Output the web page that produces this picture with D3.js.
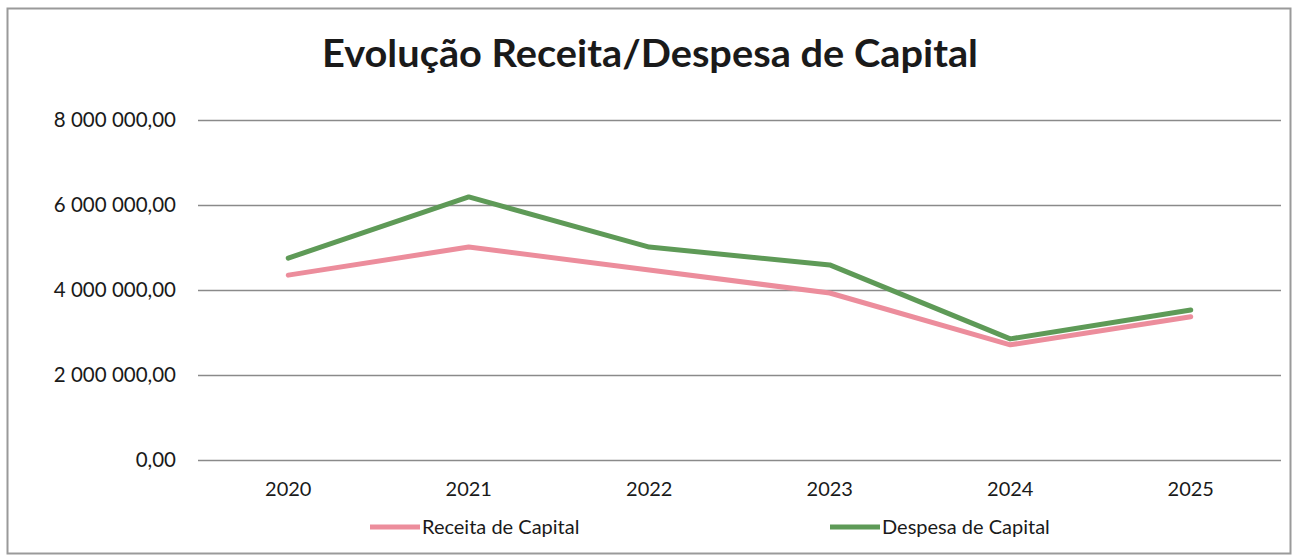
<!DOCTYPE html>
<html><head><meta charset="utf-8">
<script src="https://cdn.jsdelivr.net/npm/d3@7"></script>
<style>body{margin:0;background:#fff}svg{display:block}</style>
</head><body>
<script>
const categories = ["2020","2021","2022","2023","2024","2025"];
const receita = [4350000, 5010000, 4470000, 3930000, 2710000, 3370000];
const despesa = [4750000, 6190000, 5010000, 4590000, 2850000, 3530000];
const yTicks = [0, 2000000, 4000000, 6000000, 8000000];
const seriesNames = ["Receita de Capital", "Despesa de Capital"];
const colors = ["#ec8d9c", "#5e9a57"];

const W = 1306, H = 558;
const svg = d3.select("body").append("svg").attr("width", W).attr("height", H);
const font = "Lato, 'Open Sans', sans-serif";

svg.append("rect").attr("x", 7.5).attr("y", 8.5).attr("width", 1283).attr("height", 545)
  .attr("fill", "#fff").attr("stroke", "#9a9a9a").attr("stroke-width", 2);

svg.append("text").attr("x", 650).attr("y", 67).attr("text-anchor", "middle")
  .attr("font-family", font).attr("font-weight", "bold").attr("font-size", 38)
  .attr("fill", "#1a1a1a").attr("textLength", 656).attr("lengthAdjust", "spacingAndGlyphs")
  .text("Evolução Receita/Despesa de Capital");

const x = d3.scaleBand().domain(categories).range([198, 1281]);
const y = d3.scaleLinear().domain([0, 8000000]).range([460, 120]);

const fmt = v => {
  const s = d3.format(",.2f")(v);
  return s.replace(/,/g, " ").replace(".", ",");
};

const yAxis = svg.append("g").attr("transform", "translate(198,0)")
  .call(d3.axisLeft(y).tickValues(yTicks).tickSize(-1083).tickPadding(22).tickFormat(fmt));
yAxis.select(".domain").remove();
yAxis.selectAll(".tick line").attr("stroke", "#8a8a8a").attr("stroke-width", 1.5);
yAxis.selectAll(".tick text").attr("font-family", font).attr("font-size", 20.5).attr("fill", "#1a1a1a");

const xAxis = svg.append("g").attr("transform", "translate(0,460)")
  .call(d3.axisBottom(x).tickSize(0).tickPadding(22));
xAxis.select(".domain").remove();
xAxis.selectAll(".tick text").attr("font-family", font).attr("font-size", 20).attr("fill", "#1a1a1a");

const line = d3.line().x((d, i) => x(categories[i]) + x.bandwidth() / 2).y(d => y(d));
[receita, despesa].forEach((s, i) => {
  svg.append("path").datum(s).attr("d", line).attr("fill", "none")
    .attr("stroke", colors[i]).attr("stroke-width", 5)
    .attr("stroke-linejoin", "round").attr("stroke-linecap", "round");
});

const legendX = [370, 830];
seriesNames.forEach((n, i) => {
  const g = svg.append("g").attr("transform", `translate(${legendX[i]},527)`);
  g.append("line").attr("x1", 0).attr("x2", 50).attr("y1", 0).attr("y2", 0)
    .attr("stroke", colors[i]).attr("stroke-width", 5);
  g.append("text").attr("x", 52).attr("y", 7).attr("font-family", font).attr("font-size", 20)
    .attr("fill", "#1a1a1a").text(n);
});
</script>
</body></html>
